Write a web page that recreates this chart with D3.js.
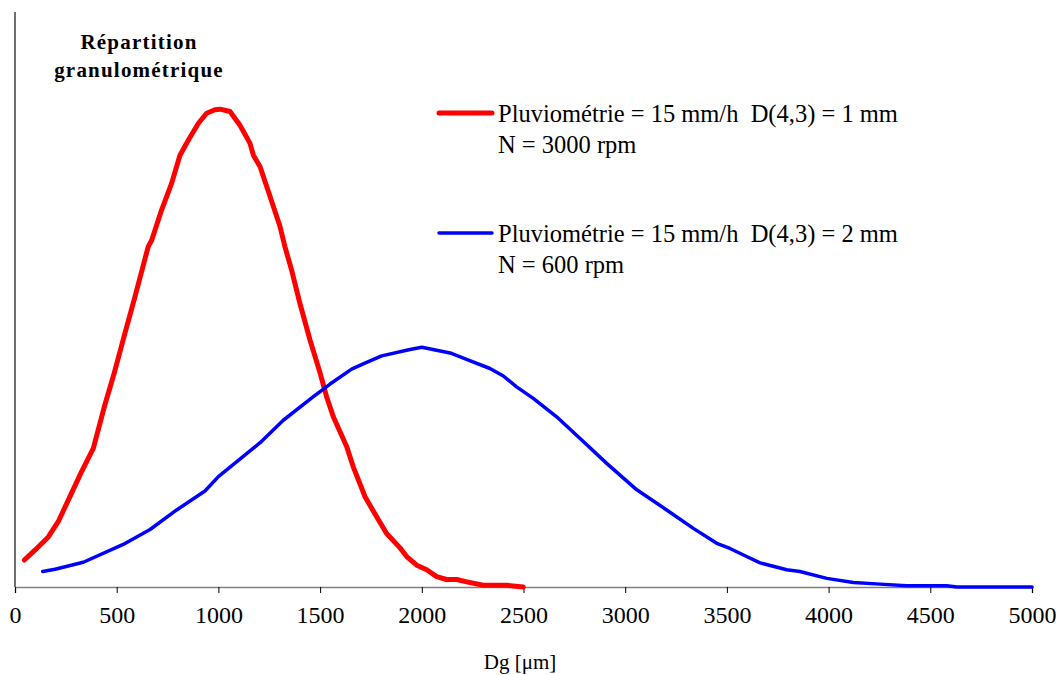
<!DOCTYPE html>
<html>
<head>
<meta charset="utf-8">
<script src="https://cdn.jsdelivr.net/npm/d3@7"></script>
<style>
  body { margin: 0; background: #fff; }
  svg text { font-family: "Liberation Serif", "Times New Roman", Times, "DejaVu Serif", serif; fill: #000; white-space: pre; }
</style>
</head>
<body>
<svg width="1058" height="675"></svg>
<script>
var svg = d3.select("svg");

// Dg [µm] and distribution values (arbitrary units, y axis unlabeled)
var redDg = [46, 98, 164, 213, 262, 328, 385, 442, 483, 541, 590, 655, 672, 721, 770, 811, 852, 901, 942, 983, 1008, 1057, 1106, 1155, 1172, 1205, 1254, 1303, 1327, 1360, 1401, 1450, 1500, 1532, 1565, 1631, 1663, 1721, 1778, 1827, 1893, 1926, 1975, 2024, 2073, 2122, 2172, 2221, 2302, 2417, 2499];
var redVal = [0.47, 0.64, 0.87, 1.14, 1.51, 2.01, 2.41, 3.17, 3.66, 4.42, 5.05, 5.92, 6.03, 6.56, 7.02, 7.51, 7.77, 8.06, 8.24, 8.30, 8.31, 8.27, 8.03, 7.72, 7.51, 7.31, 6.79, 6.27, 5.92, 5.51, 4.93, 4.30, 3.72, 3.31, 2.96, 2.44, 2.09, 1.57, 1.22, 0.93, 0.68, 0.53, 0.38, 0.30, 0.18, 0.13, 0.13, 0.09, 0.03, 0.03, 0.0];

var blueDg = [136, 197, 336, 532, 664, 795, 934, 1000, 1205, 1319, 1467, 1549, 1655, 1712, 1803, 1942, 2000, 2139, 2220, 2335, 2401, 2466, 2548, 2663, 2794, 2909, 3057, 3204, 3335, 3450, 3515, 3597, 3663, 3794, 3859, 3991, 4122, 4253, 4384, 4581, 4630, 5000];
var blueVal = [0.27, 0.31, 0.43, 0.74, 1.00, 1.34, 1.67, 1.92, 2.51, 2.90, 3.31, 3.53, 3.79, 3.88, 4.02, 4.13, 4.17, 4.07, 3.96, 3.80, 3.67, 3.48, 3.28, 2.96, 2.53, 2.15, 1.69, 1.34, 1.02, 0.76, 0.67, 0.53, 0.42, 0.30, 0.27, 0.15, 0.08, 0.05, 0.02, 0.02, 0, 0];

var xTicks = [0, 500, 1000, 1500, 2000, 2500, 3000, 3500, 4000, 4500, 5000];

var series = [
  { name: ["Pluviométrie = 15 mm/h  D(4,3) = 1 mm", "N = 3000 rpm"], color: "#ff0000", width: 5, dg: redDg, val: redVal },
  { name: ["Pluviométrie = 15 mm/h  D(4,3) = 2 mm", "N = 600 rpm"], color: "#0000ff", width: 3.5, dg: blueDg, val: blueVal }
];

// plot area
var margin = {top: 12, left: 15},
    width = 1017,
    height = 575;

var g = svg.append("g")
  .attr("transform", "translate(" + margin.left + "," + margin.top + ")");

var x = d3.scaleLinear().domain([0, 5000]).range([0, width]);
var y = d3.scaleLinear().domain([0, 10]).range([height, 0]);

// y axis: plain line, no ticks
g.append("line")
  .attr("x1", 0).attr("x2", 0)
  .attr("y1", 0).attr("y2", height)
  .attr("stroke", "#404040").attr("stroke-width", 1.5);

// x axis
var xAxis = g.append("g")
  .attr("transform", "translate(0," + height + ")")
  .call(d3.axisBottom(x).tickValues(xTicks).tickSize(6).tickPadding(13).tickFormat(d3.format("d")));
xAxis.attr("font-family", null).attr("font-size", null);
xAxis.select(".domain").attr("stroke", "#808080").attr("stroke-width", 1.5);
xAxis.selectAll(".tick line").attr("stroke", "#000");
xAxis.selectAll(".tick text")
  .style("font-size", "24px");

svg.append("text")
  .attr("x", 520).attr("y", 669)
  .attr("text-anchor", "middle")
  .style("font-size", "21px")
  .text("Dg [μm]");

// curves
var line = d3.line()
  .x(function(d) { return x(d[0]); })
  .y(function(d) { return y(d[1]); });

series.forEach(function(s) {
  g.append("path")
    .datum(d3.zip(s.dg, s.val))
    .attr("fill", "none")
    .attr("stroke", s.color)
    .attr("stroke-width", s.width)
    .attr("stroke-linejoin", "round")
    .attr("stroke-linecap", "round")
    .attr("d", line);
});

// title
var title = svg.append("text")
  .attr("text-anchor", "middle")
  .style("font-size", "21px")
  .style("font-weight", "bold")
  .style("letter-spacing", "1.2px");
title.append("tspan").attr("x", 139).attr("y", 49).text("Répartition");
title.append("tspan").attr("x", 139).attr("y", 77).text("granulométrique");

// legend
var legendY = [113, 233];
series.forEach(function(s, i) {
  var ly = legendY[i];
  svg.append("line")
    .attr("x1", 439).attr("x2", 492)
    .attr("y1", ly).attr("y2", ly)
    .attr("stroke", s.color)
    .attr("stroke-width", s.width)
    .attr("stroke-linecap", "round");
  s.name.forEach(function(t, j) {
    svg.append("text")
      .attr("x", 498).attr("y", ly + 9 + j * 31)
      .style("font-size", "24.5px")
      .text(t);
  });
});
</script>
</body>
</html>
